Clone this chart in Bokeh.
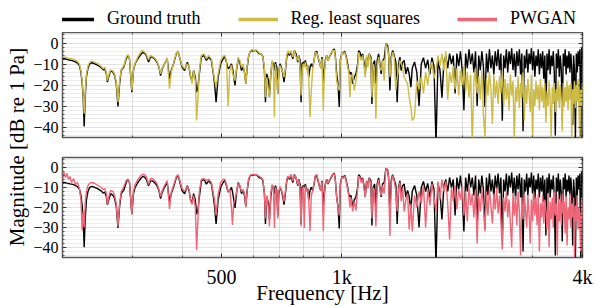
import math
from bokeh.plotting import figure
from bokeh.models import FixedTicker, LinearAxis, LogAxis, Legend, LegendItem, Range1d
from bokeh.layouts import row, column
from bokeh.embed import file_html
from bokeh.resources import INLINE
from bokeh.core.properties import value

# ---------------- data ----------------
freq_hz = [
    200.0, 201.7, 203.5, 205.2, 207.0, 208.8, 210.6, 213.1, 215.5, 218.0,
    220.5, 222.4, 224.0, 225.3, 226.6, 227.9, 229.6, 231.6, 234.0, 237.2,
    240.8, 245.5, 250.3, 252.7, 255.1, 257.5, 259.0, 260.9, 263.9, 267.6,
    270.1, 272.6, 275.3, 277.9, 280.5, 284.9, 288.7, 291.5, 294.2, 298.2,
    301.0, 303.9, 308.7, 314.8, 317.9, 320.8, 324.0, 328.3, 332.1, 335.4,
    339.9, 344.6, 348.6, 351.9, 355.3, 360.0, 365.6, 370.5, 374.2, 379.2,
    385.2, 389.0, 392.6, 398.1, 404.2, 410.5, 414.6, 418.4, 421.8, 425.7,
    429.9, 433.1, 436.6, 439.9, 445.0, 452.0, 458.1, 464.2, 471.5, 477.0,
    480.6, 484.5, 490.2, 497.6, 504.6, 509.3, 514.3, 519.3, 524.2, 529.4,
    532.4, 536.4, 540.2, 544.9, 550.3, 555.4, 560.8, 566.4, 571.6, 574.9,
    579.6, 584.0, 588.4, 594.2,
    598.8, 604.3, 610.3, 616.3, 622.0, 628.1, 634.2, 640.1, 643.8, 649.0,
    655.0, 658.8, 664.1, 669.1, 674.1, 678.0, 681.9, 687.4, 691.3, 695.3,
    700.5, 705.8, 711.5, 716.8, 722.2, 728.0, 733.5, 739.0, 746.3, 753.6,
    760.6, 768.1, 775.6, 780.1, 785.9, 790.5, 795.0, 800.9, 805.6, 810.2,
    816.7, 821.5, 826.2, 832.4, 838.6, 845.4, 851.8, 858.2, 865.1, 871.6,
    878.1, 885.2, 891.9, 898.6, 903.8, 909.0, 916.3, 923.2, 930.2, 939.3,
    948.5, 957.3, 962.8, 970.6, 977.9, 985.2, 990.9, 1000.6, 1008.1, 1016.2,
    1023.9, 1033.9, 1039.9, 1047.7, 1053.7, 1064.0, 1073.9, 1084.5, 1095.2, 1101.5,
    1109.7, 1118.0, 1127.1, 1137.5, 1144.1, 1153.3, 1161.9, 1170.7, 1182.2, 1189.0,
    1197.9, 1207.6, 1216.6, 1225.7, 1235.6, 1244.9, 1254.3, 1264.4, 1276.2, 1288.8,
    1301.4, 1309.0, 1318.8, 1328.7, 1339.4, 1351.8, 1365.1, 1375.3, 1386.5, 1396.9,
    1407.4, 1418.8, 1432.0, 1446.2, 1460.4, 1473.9, 1488.3,
    1500, 1520, 1540, 1560, 1580, 1600, 1620, 1640, 1660, 1680,
    1700, 1720, 1740, 1760, 1780, 1800, 1820, 1840, 1860, 1880,
    1900, 1920, 1940, 1960, 1980, 2000, 2020, 2040, 2060, 2080,
    2100, 2120, 2140, 2160, 2180, 2200, 2220, 2240, 2260, 2280,
    2300, 2320, 2340, 2360, 2380, 2400, 2420, 2440, 2460, 2480,
    2500, 2520, 2540, 2560, 2580, 2600, 2620, 2640, 2660, 2680,
    2700, 2720, 2740, 2760, 2780, 2800, 2820, 2840, 2860, 2880,
    2900, 2920, 2940, 2960, 2980, 3000, 3020, 3040, 3060, 3080,
    3100, 3120, 3140, 3160, 3180, 3200, 3220, 3240, 3260, 3280,
    3300, 3320, 3340, 3360, 3380, 3400, 3420, 3440, 3460, 3480,
    3500, 3520, 3540, 3560, 3580, 3600, 3620, 3640, 3660, 3680,
    3700, 3720, 3740, 3760, 3780, 3800, 3820, 3840, 3860, 3880,
    3900, 3920, 3940, 3960, 3980, 4000,
]

ground_truth_db = [
    -7.5, -7.5, -7.6, -7.8, -8.0, -8.2, -8.3, -8.6, -9.0, -9.6,
    -10.8, -14.0, -19.0, -26.0, -39.8, -26.0, -16.0, -12.0, -9.9, -9.4,
    -9.9, -10.7, -11.8, -12.8, -12.3, -14.7, -18.6, -16.3, -13.1, -13.9,
    -15.5, -19.4, -30.2, -19.4, -13.1, -11.2, -7.5, -5.9, -7.5, -23.4,
    -13.1, -9.9, -7.5, -5.2, -4.4, -4.8, -5.9, -9.1, -6.7, -6.7,
    -7.5, -9.1, -11.5, -15.5, -12.3, -9.9, -7.5, -17.1, -13.1, -9.9,
    -5.2, -3.9, -6.7, -11.5, -13.1, -9.1, -11.5, -16.3, -17.9, -13.1,
    -16.3, -23.4, -21.0, -14.7, -6.7, -5.9, -8.3, -6.7, -8.3, -14.7,
    -20.0, -28.2, -16.3, -9.9, -7.5, -6.4, -9.1, -12.3, -11.5, -9.9,
    -12.0, -16.0, -20.2, -13.0, -7.5, -9.1, -13.1, -11.5, -14.7, -19.4,
    -11.5, -6.7, -4.4, -3.6,
    -3.9, -3.6, -3.6, -4.4, -5.2, -5.2, -6.4, -13.1, -28.2, -14.7,
    -17.9, -25.8, -14.7, -9.1, -9.9, -13.1, -9.1, -11.5, -24.2, -13.1,
    -9.9, -11.5, -14.7, -18.6, -13.1, -6.7, -4.4, -5.9, -4.4, -7.5,
    -3.6, -5.2, -9.1, -5.9, -8.3, -28.2, -9.9, -9.1, -9.9, -8.3,
    -11.5, -10.7, -16.3, -11.5, -9.9, -11.5, -8.3, -4.4, -3.9, -6.7,
    -9.1, -11.5, -6.7, -18.6, -13.1, -8.3, -5.9, -8.3, -6.7, -5.2,
    -3.6, -2.8, -5.9, -14.7, -19.4, -30.5, -8.3, -4.4, -5.2, -3.9,
    -5.9, -9.9, -13.1, -14.7, -13.9, -19.4, -16.3, -14.7, -9.9, -3.6,
    -4.4, -6.7, -5.2, -9.9, -14.7, -6.7, -9.9, -5.2, -6.7, -29.0,
    -9.9, -8.3, -19.4, -8.3, -5.2, -9.9, -14.7, -8.3, -7.5, -0.4,
    -1.2, -5.2, -22.6, -6.7, -3.6, -5.9, -9.1, -28.2, -9.9, -6.7,
    -13.1, -9.1, -8.3, -14.7, -11.5, -14.7, -21.0,
    -12, -9, -14, -30, -10, -7, -12, -8, -15, -7,
    -11, -48, -8, -13, -26, -9, -6, -12, -5, -10,
    -6, -24, -5, -11, -4, -13, -32, -5, -12, -3,
    -10, -5, -14, -4, -30, -6, -13, -4, -11, -30.5,
    -5, -14, -3, -12, -6, -15, -4, -11, -3, -13,
    -5, -37, -6, -12, -3, -14, -4, -10, -2.5, -13,
    -5, -16, -4, -11, -3, -15, -5, -42, -6, -12,
    -3, -14, -5, -10, -2.5, -13, -4, -16, -6, -11,
    -3, -15, -5, -12, -4, -17, -6, -34, -5, -13,
    -3, -15, -6, -11, -4, -14, -44, -5, -12, -3,
    -16, -6, -13, -37, -5, -11, -3, -15, -6, -12,
    -4, -14, -5, -12, -39, -6, -13, -46, -5, -14,
    -4, -11, -3, -45, -2, -8,
]

reg_least_squares_db = [
    -6.7, -6.7, -6.8, -7.0, -7.2, -7.4, -7.5, -7.7, -8.0, -8.8,
    -10.0, -13.0, -18.0, -24.5, -33.7, -24.0, -15.0, -11.0, -9.1, -8.6,
    -9.1, -9.9, -11.2, -12.3, -11.5, -13.9, -17.9, -15.5, -12.8, -13.4,
    -14.7, -18.6, -28.2, -17.9, -12.8, -10.7, -6.7, -5.5, -7.5, -22.6,
    -13.1, -9.6, -6.7, -3.9, -3.6, -4.4, -5.2, -8.0, -5.9, -6.4,
    -7.1, -8.6, -11.2, -14.7, -11.8, -9.9, -7.1, -21.8, -13.9, -9.6,
    -4.8, -3.9, -6.7, -10.7, -12.3, -9.9, -11.5, -15.5, -19.4, -13.1,
    -17.9, -36.9, -25.8, -13.1, -5.9, -5.2, -7.5, -5.9, -7.5, -13.9,
    -17.9, -21.0, -14.7, -8.3, -6.4, -5.9, -8.3, -30.2, -13.0, -10.5,
    -14.0, -16.3, -17.9, -12.5, -6.7, -8.3, -11.5, -9.9, -15.5, -19.4,
    -10.7, -6.4, -4.4, -3.2,
    -3.2, -3.9, -3.2, -3.9, -4.8, -5.2, -6.7, -11.5, -25.8, -16.3,
    -22.6, -25.8, -14.7, -8.3, -11.5, -35.3, -9.9, -17.9, -24.2, -13.1,
    -10.7, -12.3, -13.9, -16.3, -12.3, -5.9, -3.6, -5.2, -3.6, -6.7,
    -3.6, -6.7, -8.3, -5.9, -11.5, -25.0, -13.1, -9.9, -11.5, -9.1,
    -13.1, -10.7, -16.3, -35.3, -22.6, -12.3, -8.3, -4.4, -4.8, -6.7,
    -8.3, -12.3, -7.5, -32.1, -14.7, -9.1, -5.9, -8.3, -6.7, -4.8,
    -3.6, -3.6, -6.7, -17.9, -21.0, -22.6, -9.1, -4.4, -5.2, -4.4,
    -6.7, -11.5, -13.1, -25.8, -16.3, -14.7, -22.6, -17.9, -11.5, -4.4,
    -6.7, -8.3, -5.9, -11.5, -16.3, -5.9, -11.5, -5.2, -8.3, -25.8,
    -9.9, -13.1, -36.1, -11.5, -6.7, -11.5, -13.1, -8.3, -17.9, -0.4,
    -2.8, -5.2, -16.3, -8.3, -4.4, -6.7, -22.6, -16.3, -13.1, -8.3,
    -9.9, -11.5, -16.3, -17.9, -19.4, -25.8, -30.5,
    -37, -35, -18, -22, -16, -24, -14, -20, -12, -9,
    -17, -13, -6, -11, -5, -13, -4, -27, -14, -19,
    -11, -22, -12, -25, -13, -20, -11, -23, -14, -26,
    -15, -48, -18, -12, -24, -16, -27, -13, -34, -45,
    -17, -25, -14, -22, -38.5, -15, -26, -18, -29, -16,
    -24, -13, -30, -17, -27, -19, -32, -15, -25, -18,
    -47, -21, -28, -16, -31, -19, -26, -14, -37, -20,
    -29, -17, -24, -33, -15, -46, -22, -30, -18, -27,
    -20, -32, -17, -28, -21, -31, -19, -38, -23, -30,
    -18, -27, -46, -21, -29, -19, -33, -22, -28, -18,
    -31, -20, -27, -42, -19, -30, -21, -28, -18, -32,
    -20, -27, -19, -46, -22, -29, -18, -31, -20, -28,
    -17, -33, -47, -22, -30, -19,
]

pwgan_db = [
    -6.5, -2.5, -5.0, -3.0, -6.0, -4.5, -7.5, -5.5, -8.5, -7.5,
    -10.5, -16.0, -31.5, -22.0, -30.0, -18.0, -12.0, -9.0, -7.8, -7.5,
    -8.0, -9.0, -10.0, -11.0, -10.5, -13.0, -18.4, -15.0, -11.5, -12.0,
    -14.0, -18.0, -29.5, -18.0, -12.0, -9.5, -6.5, -5.8, -7.5, -23.2,
    -12.0, -8.5, -6.0, -3.8, -3.4, -3.6, -4.5, -8.5, -5.5, -5.5,
    -6.5, -8.0, -11.0, -14.5, -11.5, -9.0, -6.5, -20.8, -12.5, -9.0,
    -4.5, -3.6, -6.0, -10.5, -12.0, -9.5, -11.0, -16.5, -18.5, -14.0,
    -20.0, -41.4, -25.0, -12.0, -6.0, -5.5, -6.5, -5.8, -7.5, -13.0,
    -17.0, -24.0, -13.5, -7.5, -5.8, -5.8, -8.5, -12.0, -11.0, -20.0,
    -28.7, -18.0, -16.0, -12.5, -8.0, -9.0, -12.0, -11.0, -14.0, -20.0,
    -11.0, -6.0, -4.5, -3.4,
    -3.6, -3.4, -3.6, -4.0, -4.5, -5.0, -6.0, -13.0, -25.5, -14.0,
    -20.0, -29.5, -13.0, -8.5, -10.0, -30.3, -10.0, -12.0, -25.5, -12.0,
    -9.5, -11.5, -13.5, -17.0, -12.0, -6.0, -4.2, -5.5, -3.4, -6.6,
    -3.8, -5.0, -8.5, -6.0, -10.0, -29.5, -12.0, -9.5, -30.3, -9.0,
    -12.0, -11.0, -16.0, -31.9, -14.0, -11.5, -8.0, -4.0, -3.5, -6.0,
    -9.0, -11.5, -7.0, -31.9, -14.0, -8.5, -6.0, -8.0, -6.5, -4.8,
    -3.4, -3.2, -6.0, -15.0, -20.0, -24.0, -9.0, -4.6, -5.5, -4.2,
    -6.5, -11.0, -13.5, -20.0, -15.0, -22.0, -17.0, -21.5, -11.0, -4.3,
    -5.0, -7.5, -5.5, -11.0, -15.0, -6.5, -10.5, -5.5, -8.0, -25.5,
    -10.0, -12.0, -29.5, -10.0, -6.0, -11.0, -14.0, -9.0, -13.0, -0.3,
    -2.0, -5.0, -34.2, -8.0, -4.0, -6.5, -12.0, -22.0, -11.0, -7.5,
    -17.0, -10.0, -22.0, -16.0, -13.0, -31.0, -18.0,
    -32, -14, -20, -12, -18, -9, -30, -11, -19, -8,
    -15, -22, -7, -16, -6, -12, -7, -18, -36, -10,
    -17, -9, -21, -11, -16, -9, -24, -12, -27, -10,
    -19, -13, -25, -11, -38, -14, -22, -10, -20, -32,
    -12, -24, -11, -19, -28, -13, -21, -10, -23, -14,
    -27, -41, -15, -22, -12, -25, -16, -28, -40, -13,
    -24, -14, -29, -12, -22, -44, -15, -26, -13, -21,
    -30, -14, -23, -38, -16, -27, -12, -24, -15, -29,
    -13, -42, -18, -25, -14, -28, -16, -22, -31, -13,
    -40, -17, -26, -15, -30, -12, -24, -18, -44, -14,
    -27, -16, -29, -13, -23, -17, -33, -14, -39, -20,
    -26, -13, -30, -18, -25, -15, -45, -19, -27, -14,
    -31, -20, -24, -42, -15, -26,
]

series_labels = ["Ground truth", "Reg. least squares", "PWGAN"]
series_colors = ["#000000", "#CCBB44", "#EE6677"]

x_limits = [200, 4000]
y_limits = [-45, 5]
x_major_ticks = [500, 1000, 4000]
x_major_labels = ["500", "1k", "4k"]
x_minor_ticks = [200, 300, 400, 600, 700, 800, 900, 2000, 3000]
x_grid_major = [1000]
x_grid_minor = [300, 400, 500, 600, 700, 800, 900, 2000, 3000]
y_major_ticks = [-40, -30, -20, -10, 0]
y_major_labels = ["\u221240", "\u221230", "\u221220", "\u221210", "0"]
y_minor_ticks = [-44, -42, -38, -36, -34, -32, -28, -26, -24, -22, -18, -16,
                 -14, -12, -8, -6, -4, -2, 2, 4]

x_label = "Frequency [Hz]"
y_label = "Magnitude [dB re 1 Pa]"

FONT = "Liberation Serif"

x_range = Range1d(*x_limits)


def style_axis(ax, ticker, labels=None, font_size="16px", standoff=4):
    ax.ticker = ticker
    ax.axis_line_color = None
    ax.major_tick_in = 4
    ax.major_tick_out = 0
    ax.minor_tick_in = 2
    ax.minor_tick_out = 0
    ax.major_tick_line_color = "#333333"
    ax.minor_tick_line_color = "#333333"
    ax.major_tick_line_width = 1
    ax.minor_tick_line_width = 0.8
    if labels is not None:
        ax.major_label_overrides = labels
        ax.major_label_text_font = FONT
        ax.major_label_text_font_size = font_size
        ax.major_label_text_color = "black"
        ax.major_label_standoff = standoff
    else:
        ax.major_label_overrides = {t: "" for t in ticker.ticks}
        ax.major_label_text_font_size = "0px"
        ax.major_label_standoff = 0


def make_panel(height, border_top, border_bottom, show_x_labels):
    p = figure(width=568, height=height, x_axis_type="log", x_range=x_range,
               y_range=Range1d(*y_limits), output_backend="svg",
               toolbar_location=None, min_border_left=31, min_border_right=16,
               min_border_top=border_top, min_border_bottom=border_bottom)
    p.outline_line_color = "#5a5a5a"
    p.outline_line_width = 1.5
    p.background_fill_color = "white"
    p.border_fill_color = "white"

    bottom_axis = p.below[0]
    left_axis = p.left[0]

    p.xgrid.ticker = FixedTicker(ticks=x_grid_major, minor_ticks=x_grid_minor)
    p.xgrid.grid_line_color = "#8a8a8a"
    p.xgrid.grid_line_dash = "1 1"
    p.xgrid.grid_line_width = 0.8
    p.xgrid.minor_grid_line_color = "#a6a6a6"
    p.xgrid.minor_grid_line_dash = "1 1"
    p.xgrid.minor_grid_line_width = 0.8

    p.ygrid.ticker = FixedTicker(ticks=y_major_ticks, minor_ticks=y_minor_ticks)
    p.ygrid.grid_line_color = "#b4b4b4"
    p.ygrid.grid_line_dash = "1 1"
    p.ygrid.grid_line_width = 0.8
    p.ygrid.minor_grid_line_color = "#cccccc"
    p.ygrid.minor_grid_line_dash = "1 1"
    p.ygrid.minor_grid_line_width = 0.7

    style_axis(left_axis, FixedTicker(ticks=y_major_ticks, minor_ticks=y_minor_ticks),
               dict(zip(y_major_ticks, y_major_labels)), "16px", 4)
    if show_x_labels:
        style_axis(bottom_axis, FixedTicker(ticks=x_major_ticks, minor_ticks=x_minor_ticks),
                   dict(zip(x_major_ticks, x_major_labels)), "20px", 8)
        bottom_axis.axis_label = x_label
        bottom_axis.axis_label_text_font = FONT
        bottom_axis.axis_label_text_font_size = "21px"
        bottom_axis.axis_label_text_font_style = "normal"
        bottom_axis.axis_label_text_color = "black"
        bottom_axis.axis_label_standoff = -10
    else:
        style_axis(bottom_axis, FixedTicker(ticks=x_major_ticks, minor_ticks=x_minor_ticks))

    top_ax = LogAxis()
    right_ax = LinearAxis()
    style_axis(top_ax, FixedTicker(ticks=x_major_ticks, minor_ticks=x_minor_ticks))
    style_axis(right_ax, FixedTicker(ticks=y_major_ticks, minor_ticks=y_minor_ticks))
    p.add_layout(top_ax, "above")
    p.add_layout(right_ax, "right")
    return p


# ---------------- legend strip ----------------
p_leg = figure(width=568, height=32, x_range=Range1d(0, 1), y_range=Range1d(0, 1),
               x_axis_location=None, y_axis_location=None, min_border=0,
               output_backend="svg", toolbar_location=None)
p_leg.outline_line_color = None
p_leg.grid.visible = False
p_leg.background_fill_color = "white"
proxy_data = [ground_truth_db, reg_least_squares_db, pwgan_db]
# the series themselves fall outside this strip's ranges: only their legend swatches show
proxies = [p_leg.line(freq_hz, d, color=c, line_width=3.5)
           for d, c in zip(proxy_data, series_colors)]
legend = Legend(
    items=[LegendItem(label=lab, renderers=[r]) for lab, r in zip(series_labels, proxies)],
    orientation="horizontal", location=(-8, 3),
    label_text_font=FONT, label_text_font_size="18px", label_text_color="black",
    glyph_width=40, glyph_height=16, label_standoff=13, spacing=37,
    padding=0, margin=0, border_line_alpha=0, background_fill_alpha=0,
)
p_leg.add_layout(legend)

# ---------------- top panel ----------------
p_top = make_panel(115, 0, 10, False)
p_top.line(freq_hz, ground_truth_db, color=series_colors[0], line_width=1.4)
p_top.line(freq_hz, reg_least_squares_db, color=series_colors[1], line_width=1.4)

# ---------------- bottom panel ----------------
p_bot = make_panel(160, 10, 45, True)
p_bot.line(freq_hz, ground_truth_db, color=series_colors[0], line_width=1.4)
p_bot.line(freq_hz, pwgan_db, color=series_colors[2], line_width=1.4)

# ---------------- shared y label ----------------
lab_fig = figure(width=30, height=307, x_range=Range1d(0, 30), y_range=Range1d(0, 307),
                 x_axis_location=None, y_axis_location=None, min_border=0,
                 output_backend="svg", toolbar_location=None)
lab_fig.outline_line_color = None
lab_fig.grid.visible = False
lab_fig.text(x=[16.5], y=[160.5], text=[y_label], angle=math.pi / 2,
             text_align="center", text_baseline="alphabetic",
             text_font=value(FONT), text_font_size="21px", text_color="black")

layout = row(lab_fig, column(p_leg, p_top, p_bot))

open("out.html", "w").write(file_html(layout, INLINE))
